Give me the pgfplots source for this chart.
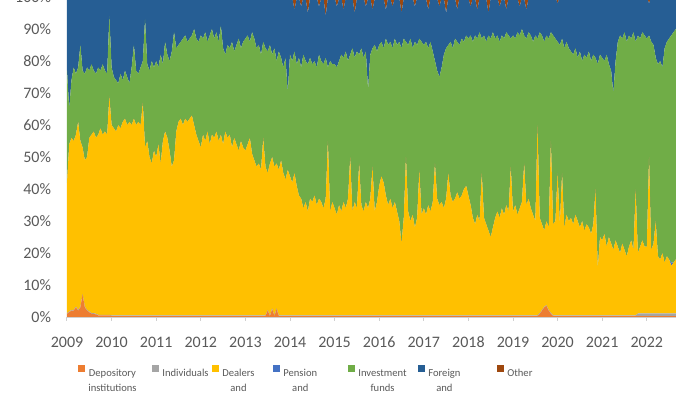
\documentclass[border=0pt]{standalone}
\usepackage{pgfplots}
\pgfplotsset{compat=1.18}
\usepackage{pgfplotstable}
\usepackage{fontspec}
\setmainfont{Carlito}
\definecolor{cdep}{HTML}{ED7D31}
\definecolor{cind}{HTML}{A5A5A5}
\definecolor{cdeal}{HTML}{FFC000}
\definecolor{cpen}{HTML}{4472C4}
\definecolor{cinv}{HTML}{70AD47}
\definecolor{cfor}{HTML}{265E94}
\definecolor{coth}{HTML}{9E480E}
\definecolor{txtgray}{HTML}{595959}
\definecolor{axgray}{HTML}{D0D0D0}
\newcommand{\legtxt}[2]{\makebox[#1][l]{\begin{tabular}[t]{@{}c@{}}#2\end{tabular}}}

\pgfplotstableread{
x dep ind deal pen inv for oth
2009.00 1 0.2 40.8 0 35 23 0
2009.05 1.5 0.2 52.3 0 11 35 0
2009.10 2 0.2 53.8 0 18 26 0
2009.15 2 0.2 52.8 0 23 22 0
2009.20 3 0.2 53.8 0 19 24 0
2009.25 2 0.2 58.8 0 17 22 0
2009.30 3 0.2 51.8 0 30 15 0
2009.35 7 0.2 45.8 0 24 23 0
2009.40 3 0.2 45.8 0 27 24 0
2009.45 2 0.2 47.8 0 28 22 0
2009.50 1.5 0.2 54.3 0 21 23 0
2009.55 1 0.2 55.8 0 22 21 0
2009.60 1 0.2 56.8 0 19 23 0
2009.65 0.8 0.2 55 0 20 24 0
2009.70 0.5 0.2 56.3 0 21 22 0
2009.75 0.5 0.2 58.3 0 18 23 0
2009.80 0.5 0.2 56.3 0 22 21 0
2009.85 0.5 0.2 57.3 0 19 23 0
2009.90 0.5 0.2 56.3 0 19 24 0
2009.95 0.5 0.2 68.3 0 25 6 0
2010.00 0.3 0.2 59.5 0 18 22 0
2010.05 0.3 0.2 58.5 0 16 25 0
2010.10 0.3 0.2 57.5 0 16 26 0
2010.15 0.3 0.2 59.5 0 13 27 0
2010.20 0.3 0.2 58.5 0 17 24 0
2010.25 0.3 0.2 60.5 0 13 26 0
2010.30 0.3 0.2 61.5 0 15 23 0
2010.35 0.3 0.2 59.5 0 15 25 0
2010.40 0.3 0.2 60.5 0 12 27 0
2010.45 0.3 0.2 59.5 0 18 22 0
2010.50 0.3 0.2 61.5 0 23 15 0
2010.55 0.3 0.2 59.5 0 17 23 0
2010.60 0.3 0.2 60.5 0 15 24 0
2010.65 0.3 0.2 59.5 0 18 22 0
2010.70 0.3 0.2 66.5 0 13 20 0
2010.75 0.3 0.2 52.5 0 40 7 0
2010.80 0.3 0.2 54.5 0 24 21 0
2010.85 0.3 0.2 49.5 0 27 23 0
2010.90 0.3 0.2 47.5 0 32 20 0
2010.95 0.3 0.2 51.5 0 26 22 0
2011.00 0.3 0.2 49.5 0 30 20 0
2011.05 0.3 0.2 53.5 0 24 22 0
2011.10 0.3 0.2 47.5 0 34 18 0
2011.15 0.3 0.2 54.5 0 24 21 0
2011.20 0.3 0.2 57.5 0 28 14 0
2011.25 0.3 0.2 55.5 0 26 18 0
2011.30 0.3 0.2 51.5 0 28 20 0
2011.35 0.3 0.2 46.5 0 36 17 0
2011.40 0.3 0.2 48.5 0 40 11 0
2011.45 0.3 0.2 57.5 0 26 16 0
2011.50 0.3 0.2 60.5 0 24 15 0
2011.55 0.3 0.2 61.5 0 24 14 0
2011.60 0.3 0.2 59.5 0 27 13 0
2011.65 0.3 0.2 61.5 0 26 12 0
2011.70 0.3 0.2 60.5 0 25 14 0
2011.75 0.3 0.2 61.5 0 25 13 0
2011.80 0.3 0.2 62.5 0 25 12 0
2011.85 0.3 0.2 59.5 0 30 10 0
2011.90 0.3 0.2 56.5 0 30 13 0
2011.95 0.3 0.2 54.5 0 31 14 0
2012.00 0.3 0.2 52.5 0 35 12 0
2012.05 0.3 0.2 56.5 0 30 13 0
2012.10 0.3 0.2 54.5 0 34 11 0
2012.15 0.3 0.2 57.5 0 28 14 0
2012.20 0.3 0.2 53.5 0 34 12 0
2012.25 0.3 0.2 56.5 0 33 10 0
2012.30 0.3 0.2 55.5 0 31 13 0
2012.35 0.3 0.2 57.5 0 31 11 0
2012.40 0.3 0.2 54.5 0 31 14 0
2012.45 0.3 0.2 56.5 0 34 9 0
2012.50 0.3 0.2 53.5 0 30 16 0
2012.55 0.3 0.2 57.5 0 24 18 0
2012.60 0.3 0.2 55.5 0 29 15 0
2012.65 0.3 0.2 56.5 0 27 16 0
2012.70 0.3 0.2 52.5 0 33 14 0
2012.75 0.3 0.2 55.5 0 27 17 0
2012.80 0.3 0.2 53.5 0 31 15 0
2012.85 0.3 0.2 51.5 0 35 13 0
2012.90 0.3 0.2 54.5 0 29 16 0
2012.95 0.3 0.2 52.5 0 33 14 0
2013.00 0.3 0.2 51.5 0 35 13 0
2013.05 0.3 0.2 53.5 0 34 12 0
2013.10 0.3 0.2 55.5 0 30 14 0
2013.15 0.3 0.2 50.5 0 38 11 0
2013.20 0.3 0.2 48.5 0 38 13 0
2013.25 0.3 0.2 46.5 0 37 16 0
2013.30 0.3 0.2 47.5 0 37 15 0
2013.35 0.3 0.2 45.5 0 36 18 0
2013.40 0.3 0.2 55.5 0 30 14 0
2013.45 0.3 0.2 46.5 0 37 16 0
2013.50 2 0.2 42.8 0 38 17 0
2013.55 0.3 0.2 47.5 0 37 15 0
2013.60 2.5 0.2 47.3 0 32 18 0
2013.65 0.3 0.2 46.5 0 37 16 0
2013.70 2.5 0.2 45.3 0 32 20 0
2013.75 0.3 0.2 45.5 0 37 17 0
2013.80 0.3 0.2 48.5 0 32 19 0
2013.85 0.3 0.2 44.5 0 33 22 0
2013.90 0.3 0.2 42.5 0 38 19 0
2013.95 0.3 0.2 45.5 0 24 29.8 0.2
2014.00 0.3 0.2 43.5 0 38 17 1
2014.05 0.3 0.2 41.5 0 38 19.8 0.2
2014.10 0.3 0.2 44.5 0 38 13 4
2014.15 0.3 0.2 40.5 0 38 20.5 0.5
2014.20 0.3 0.2 37.5 0 43 18.8 0.2
2014.25 0.3 0.2 36.5 0 41 19 3
2014.30 0.3 0.2 33.5 0 48 17.8 0.2
2014.35 0.3 0.2 35.5 0 44 19.5 0.5
2014.40 0.3 0.2 32.5 0 46 16 5
2014.45 0.3 0.2 36.5 0 44 18.8 0.2
2014.50 0.3 0.2 35.5 0 43 20 1
2014.55 0.3 0.2 37.5 0 42 19.5 0.5
2014.60 0.3 0.2 34.5 0 43 21.8 0.2
2014.65 0.3 0.2 36.5 0 45 15 3
2014.70 0.3 0.2 35.5 0 44 19.5 0.5
2014.75 0.3 0.2 33.5 0 45 20.8 0.2
2014.80 0.3 0.2 36.5 0 44 13 6
2014.85 0.3 0.2 54.5 0 23 21.8 0.2
2014.90 0.3 0.2 32.5 0 47 19.5 0.5
2014.95 0.3 0.2 35.5 0 43 20 1
2015.00 0.3 0.2 33.5 0 45 20.8 0.2
2015.05 0.3 0.2 31.5 0 46 19 3
2015.10 0.3 0.2 34.5 0 45 19.5 0.5
2015.15 0.3 0.2 32.5 0 49 17.8 0.2
2015.20 0.3 0.2 35.5 0 45 15 4
2015.25 0.3 0.2 33.5 0 49 16.8 0.2
2015.30 0.3 0.2 36.5 0 43 19.5 0.5
2015.35 0.3 0.2 49.5 0 32 17 1
2015.40 0.3 0.2 32.5 0 51 15.8 0.2
2015.45 0.3 0.2 35.5 0 45 14 5
2015.50 0.3 0.2 33.5 0 49 16.5 0.5
2015.55 0.3 0.2 47.5 0 34 17.8 0.2
2015.60 0.3 0.2 34.5 0 49 15 1
2015.65 0.3 0.2 32.5 0 48 18.8 0.2
2015.70 0.3 0.2 35.5 0 47 14 3
2015.75 0.3 0.2 33.5 0 37 28.5 0.5
2015.80 0.3 0.2 36.5 0 45 17.8 0.2
2015.85 0.3 0.2 46.5 0 37 12 4
2015.90 0.3 0.2 32.5 0 52 14.5 0.5
2015.95 0.3 0.2 35.5 0 47 16.8 0.2
2016.00 0.3 0.2 40.5 0 44 14 1
2016.05 0.3 0.2 43.5 0 42 13.8 0.2
2016.10 0.3 0.2 41.5 0 42 15.5 0.5
2016.15 0.3 0.2 37.5 0 49 9 4
2016.20 0.3 0.2 34.5 0 50 14.8 0.2
2016.25 0.3 0.2 36.5 0 49 13.5 0.5
2016.30 0.3 0.2 33.5 0 50 13 3
2016.35 0.3 0.2 35.5 0 51 12.8 0.2
2016.40 0.3 0.2 32.5 0 52 14 1
2016.45 0.3 0.2 29.5 0 56 13.8 0.2
2016.50 0.3 0.2 22.5 0 61 11 5
2016.55 0.3 0.2 30.5 0 56 12.5 0.5
2016.60 0.3 0.2 49.5 0 36 13.8 0.2
2016.65 0.3 0.2 32.5 0 52 14 1
2016.70 0.3 0.2 29.5 0 57 12.5 0.5
2016.75 0.3 0.2 31.5 0 52 15.8 0.2
2016.80 0.3 0.2 27.5 0 58 11 3
2016.85 0.3 0.2 30.5 0 54 14.8 0.2
2016.90 0.3 0.2 45.5 0 41 12.5 0.5
2016.95 0.3 0.2 31.5 0 54 13 1
2017.00 0.3 0.2 33.5 0 51 14.8 0.2
2017.05 0.3 0.2 31.5 0 54 13.5 0.5
2017.10 0.3 0.2 34.5 0 49 12 4
2017.15 0.3 0.2 32.5 0 53 13.8 0.2
2017.20 0.3 0.2 35.5 0 47 16 1
2017.25 0.3 0.2 47.5 0 32 19.8 0.2
2017.30 0.3 0.2 36.5 0 40 22.5 0.5
2017.35 0.3 0.2 34.5 0 40 22 3
2017.40 0.3 0.2 35.5 0 42 21.8 0.2
2017.45 0.3 0.2 33.5 0 48 17.5 0.5
2017.50 0.3 0.2 36.5 0 47 11 5
2017.55 0.3 0.2 44.5 0 40 14.8 0.2
2017.60 0.3 0.2 37.5 0 48 13 1
2017.65 0.3 0.2 35.5 0 48 15.8 0.2
2017.70 0.3 0.2 36.5 0 50 12.5 0.5
2017.75 0.3 0.2 38.5 0 47 10 4
2017.80 0.3 0.2 36.5 0 48 14.8 0.2
2017.85 0.3 0.2 37.5 0 49 12.5 0.5
2017.90 0.3 0.2 39.5 0 46 13 1
2017.95 0.3 0.2 40.5 0 47 11.8 0.2
2018.00 0.3 0.2 37.5 0 49 12.5 0.5
2018.05 0.3 0.2 34.5 0 53 9 3
2018.10 0.3 0.2 30.5 0 55 13.8 0.2
2018.15 0.3 0.2 28.5 0 59 11.5 0.5
2018.20 0.3 0.2 31.5 0 55 9 4
2018.25 0.3 0.2 29.5 0 59 10.8 0.2
2018.30 0.3 0.2 44.5 0 42 12 1
2018.35 0.3 0.2 30.5 0 57 11.8 0.2
2018.40 0.3 0.2 28.5 0 57 13.5 0.5
2018.45 0.3 0.2 26.5 0 61 7 5
2018.50 0.3 0.2 24.5 0 62 12.8 0.2
2018.55 0.3 0.2 27.5 0 61 10.5 0.5
2018.60 0.3 0.2 30.5 0 56 12 1
2018.65 0.3 0.2 32.5 0 55 11.8 0.2
2018.70 0.3 0.2 30.5 0 55 11 3
2018.75 0.3 0.2 33.5 0 54 11.5 0.5
2018.80 0.3 0.2 31.5 0 55 12.8 0.2
2018.85 0.3 0.2 34.5 0 54 7 4
2018.90 0.3 0.2 32.5 0 55 11.8 0.2
2018.95 0.3 0.2 46.5 0 40 12.5 0.5
2019.00 0.3 0.2 32.5 0 55 11 1
2019.05 0.3 0.2 34.5 0 52 12.8 0.2
2019.10 0.3 0.2 31.5 0 57 10.5 0.5
2019.15 0.3 0.2 33.5 0 54 9 3
2019.20 0.3 0.2 35.5 0 54 9.8 0.2
2019.25 0.3 0.2 47.5 0 40 11.5 0.5
2019.30 0.3 0.2 34.5 0 52 9 4
2019.35 0.3 0.2 36.5 0 52 10.8 0.2
2019.40 0.3 0.2 33.5 0 54 11 1
2019.45 0.3 0.2 31.5 0 54 13.8 0.2
2019.50 0.3 0.2 29.5 0 58 11.5 0.5
2019.55 0.3 0.2 59.5 0 27 12.8 0.2
2019.60 1 0.2 29.8 0 58 11 0
2019.65 2 0.2 26.8 0 59 12 0
2019.70 3 0.2 23.8 0 59 14 0
2019.75 3.5 0.2 26.3 0 58 12 0
2019.80 2 0.2 25.8 0 59 13 0
2019.85 1 0.2 53.8 0 34 11 0
2019.90 0.3 0.2 28.5 0 59 12 0
2019.95 0.3 0.2 29.5 0 57 13 0
2020.00 0.3 0.2 44.5 0 41 12 2
2020.05 0.3 0.2 28.5 0 56 15 0
2020.10 0.3 0.2 44.5 0 42 13 0
2020.15 0.3 0.2 27.5 0 56 16 0
2020.20 0.3 0.2 31.5 0 54 14 0
2020.25 0.3 0.2 29.5 0 54 16 0
2020.30 0.3 0.2 30.5 0 52 17 0
2020.35 0.3 0.2 28.5 0 53 18 0
2020.40 0.3 0.2 31.5 0 52 16 0
2020.45 0.3 0.2 29.5 0 51 19 0
2020.50 0.3 0.2 27.5 0 55 17 0
2020.55 0.3 0.2 29.5 0 50 20 0
2020.60 0.3 0.2 26.5 0 55 18 0
2020.65 0.3 0.2 28.5 0 52 19 0
2020.70 0.3 0.2 27.5 0 55 17 0
2020.75 0.3 0.2 25.5 0 54 20 0
2020.80 0.3 0.2 28.5 0 53 18 0
2020.85 0.3 0.2 39.5 0 41 19 0
2020.90 0.3 0.2 14.5 0 64 21 0
2020.95 0.3 0.2 24.5 0 57 18 0
2021.00 0.3 0.2 23.5 0 57 19 0
2021.05 0.3 0.2 25.5 0 54 20 0
2021.10 0.3 0.2 21.5 0 60 18 0
2021.15 0.3 0.2 24.5 0 54 21 0
2021.20 0.3 0.2 22.5 0 54 23 0
2021.25 0.3 0.2 20.5 0 49 30 0
2021.30 0.3 0.2 23.5 0 56 20 0
2021.35 0.3 0.2 21.5 0 64 14 0
2021.40 0.3 0.2 19.5 0 68 12 0
2021.45 0.3 0.2 22.5 0 64 13 0
2021.50 0.3 0.2 20.5 0 68 11 0
2021.55 0.3 0.2 18.5 0 67 14 0
2021.60 0.3 0.2 21.5 0 66 12 0
2021.65 0.3 0.2 23.5 0 63 13 0
2021.70 0.3 0.2 20.5 0 68 11 0
2021.75 0.3 0.2 39.5 0 46 14 0
2021.80 0.3 0.8 18.9 0 68 12 0
2021.85 0.3 0.8 20.9 0 65 13 0
2021.90 0.3 0.8 22.9 0 65 11 0
2021.95 0.3 0.8 20.9 0 66 12 0
2022.00 0.3 0.8 20.9 0 65 13 0
2022.05 0.3 0.8 48.9 0 38 10 2
2022.10 0.3 0.8 19.9 0 65 14 0
2022.15 0.3 0.8 21.9 0 62 15 0
2022.20 0.3 0.8 28.9 0 51 19 0
2022.25 0.3 0.8 17.9 0 60 21 0
2022.30 0.3 0.8 16.9 0 62 20 0
2022.35 0.3 0.8 18.9 0 58 22 0
2022.40 0.3 0.8 15.9 0 67 16 0
2022.45 0.3 0.8 17.9 0 67 14 0
2022.50 0.3 0.8 16.9 0 69 13 0
2022.55 0.3 0.8 14.9 1 71 12 0
2022.60 0.3 0.8 15.9 0 72 11 0
2022.65 0.3 0.8 16.9 0 72 10 0
}\datatable

\begin{document}
\begin{tikzpicture}
\begin{axis}[
  at={(0,0)}, anchor=south west,
  scale only axis, width=304.4pt, height=160pt,
  xmin=2009, xmax=2022.65, ymin=0, ymax=100,
  stack plots=y,
  axis x line*=bottom, axis y line*=left,
  y axis line style={draw=none},
  x axis line style={draw=axgray, line width=0.6pt},
  xtick={2009,2010,...,2022},
  ytick={0,10,...,100},
  yticklabel={\pgfmathprintnumber{\tick}\%},
  xticklabel style={/pgf/number format/1000 sep={}, yshift=-4.5pt},
  yticklabel style={xshift=-2.5pt},
  tick label style={font=\fontsize{8}{9.5}\selectfont, text=txtgray},
  /pgf/number format/assume math mode=true,
  ytick style={draw=none},
  xtick style={draw=axgray, line width=0.5pt},
  tick align=outside, major tick length=2pt,
  legend columns=7,
  legend style={at={(axis description cs:0.018,-0.15)}, anchor=north west,
    draw=none, fill=none, inner sep=0pt,
    nodes={inner sep=0pt, text=txtgray, font=\fontsize{5.3}{7.5}\selectfont},
    /tikz/every odd column/.style={column sep=1.5pt},
    /tikz/every even column/.style={column sep=0pt}},
  legend image code/.code={\fill[#1] (0pt,0pt) rectangle (3.5pt,3.5pt);},
]
\addplot[fill=cdep, draw=none] table[x=x, y=dep]{\datatable} \closedcycle;
\addlegendentry{\legtxt{32pt}{Depository\\institutions}}
\addplot[fill=cind, draw=none] table[x=x, y=ind]{\datatable} \closedcycle;
\addlegendentry{\legtxt{25pt}{Individuals}}
\addplot[fill=cdeal, draw=none] table[x=x, y=deal]{\datatable} \closedcycle;
\addlegendentry{\legtxt{25.5pt}{Dealers\\and}}
\addplot[fill=cpen, draw=none] table[x=x, y=pen]{\datatable} \closedcycle;
\addlegendentry{\legtxt{32.5pt}{Pension\\and}}
\addplot[fill=cinv, draw=none] table[x=x, y=inv]{\datatable} \closedcycle;
\addlegendentry{\legtxt{30pt}{Investment\\funds}}
\addplot[fill=cfor, draw=none] table[x=x, y=for]{\datatable} \closedcycle;
\addlegendentry{\legtxt{34.5pt}{Foreign\\and}}
\addplot[fill=coth, draw=none] table[x=x, y=oth]{\datatable} \closedcycle;
\addlegendentry{\legtxt{15pt}{Other}}
\end{axis}
\pgfresetboundingbox
\useasboundingbox (-33.5pt,-38.5pt) rectangle (316.5pt,158.5pt);
\end{tikzpicture}
\end{document}
